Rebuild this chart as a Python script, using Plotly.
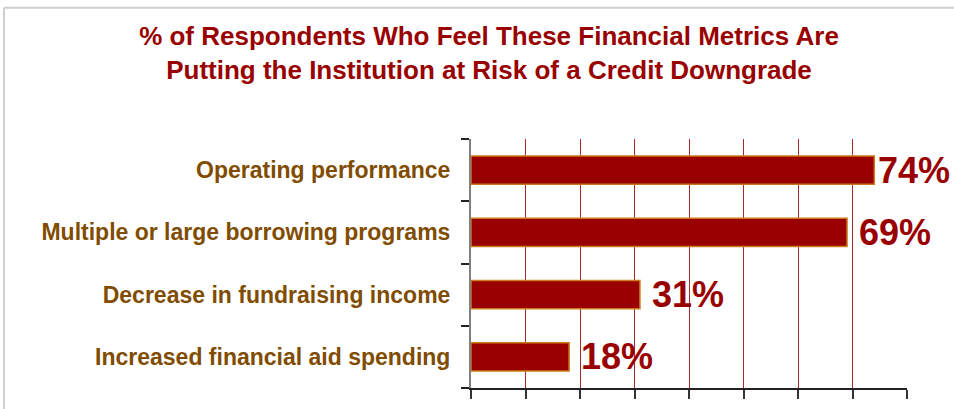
import plotly.graph_objects as go

categories = [
    "Operating performance",
    "Multiple or large borrowing programs",
    "Decrease in fundraising income",
    "Increased financial aid spending",
]
values = [74, 69, 31, 18]
value_labels = ["74%", "69%", "31%", "18%"]

title_text = ("% of Respondents Who Feel These Financial Metrics Are<br>"
              "Putting the Institution at Risk of a Credit Downgrade")

W, H = 954, 409
ML, MR, MT, MB = 471, 47, 139, 14
FONT = "Liberation Sans, Arial, sans-serif"

fig = go.Figure()
fig.add_trace(go.Bar(
    x=values,
    y=categories,
    orientation="h",
    marker=dict(color="#990000", line=dict(color="#CC7A1A", width=1.5)),
    width=0.45,
    hoverinfo="skip",
))

for v, c, lab in zip(values, categories, value_labels):
    shift = 2 if v == max(values) else 10
    fig.add_annotation(
        x=v, y=c, xref="x", yref="y", text=lab, showarrow=False,
        xanchor="left", yanchor="middle", xshift=shift, yshift=0,
        font=dict(family=FONT, size=36, color="#990000", weight="bold"),
    )

# outer light-gray frame (top and left edges visible)
fig.add_shape(type="line", xref="paper", yref="paper",
              x0=(4 - ML) / (W - ML - MR), x1=(W + 10 - ML) / (W - ML - MR),
              y0=(H - 4 - MB) / (H - MT - MB), y1=(H - 4 - MB) / (H - MT - MB),
              line=dict(color="#CFCFCF", width=2), layer="below")
fig.add_shape(type="line", xref="paper", yref="paper",
              x0=(4 - ML) / (W - ML - MR), x1=(4 - ML) / (W - ML - MR),
              y0=(H - 4 - MB) / (H - MT - MB), y1=(-10 - MB) / (H - MT - MB),
              line=dict(color="#CFCFCF", width=2), layer="below")

fig.update_layout(
    width=W, height=H,
    margin=dict(l=ML, r=MR, t=MT, b=MB, pad=0),
    paper_bgcolor="white", plot_bgcolor="white",
    showlegend=False,
    title=dict(
        text=title_text,
        x=489 / W, xref="container", xanchor="center",
        y=1 - 45 / H, yref="container", yanchor="top",
        font=dict(family=FONT, size=26, color="#990000", weight="bold"),
    ),
    xaxis=dict(
        range=[0, 80], dtick=10, showticklabels=False,
        showgrid=True, gridcolor="#A52A2A", gridwidth=1,
        zeroline=False,
        showline=True, linecolor="#222222", linewidth=1.5,
        ticks="outside", ticklen=9, tickcolor="#333333", tickwidth=1.5,
        fixedrange=True,
    ),
    yaxis=dict(
        categoryorder="array", categoryarray=categories[::-1],
        showgrid=False, zeroline=False,
        showline=True, linecolor="#808080", linewidth=2,
        ticks="outside", ticklen=8, tickcolor="#222222", tickwidth=1.5,
        tickson="boundaries",
        ticklabelstandoff=14,
        tickfont=dict(family=FONT, size=23, color="#7F4C00", weight="bold"),
        fixedrange=True,
    ),
)

fig.write_html("out.html")
